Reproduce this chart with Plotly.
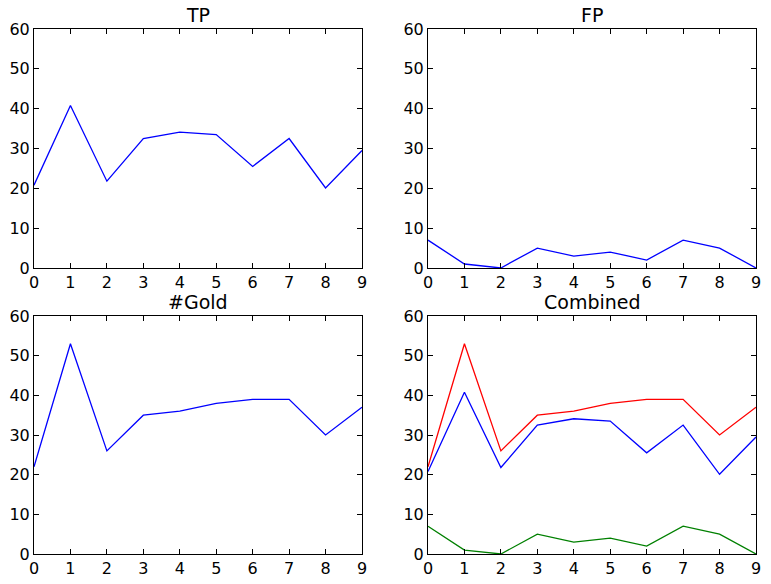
import plotly.graph_objects as go

# data
runs = [0, 1, 2, 3, 4, 5, 6, 7, 8, 9]
tp = [20.8, 40.8, 21.8, 32.5, 34.1, 33.5, 25.5, 32.5, 20.1, 29.5]
fp = [7, 1, 0, 5, 3, 4, 2, 7, 5, 0]
gold = [22, 53, 26, 35, 36, 38, 39, 39, 30, 37]

panel_titles = ["TP", "FP", "#Gold", "Combined"]
y_ticks = [0, 10, 20, 30, 40, 50, 60]

W, H = 771, 584
# axes boxes in pixels (left, right, top, bottom)
boxes = [(34, 362, 29, 268), (428, 756, 29, 268),
         (34, 362, 316, 554), (428, 756, 316, 554)]


def add_line(fig, x, y, color, n):
    """Add one line to subplot n."""
    suffix = "" if n == 1 else str(n)
    fig.add_trace(go.Scatter(
        x=x, y=y, mode="lines",
        line=dict(color=color, width=1.3),
        xaxis="x" + suffix, yaxis="y" + suffix,
        showlegend=False, hoverinfo="skip"
    ))


fig = go.Figure()
add_line(fig, runs, tp, "#0000ff", 1)
add_line(fig, runs, fp, "#0000ff", 2)
add_line(fig, runs, gold, "#0000ff", 3)
add_line(fig, runs, gold, "#ff0000", 4)
add_line(fig, runs, tp, "#0000ff", 4)
add_line(fig, runs, fp, "#008000", 4)

layout = dict(
    width=W, height=H,
    margin=dict(l=0, r=0, t=0, b=0),
    plot_bgcolor="white", paper_bgcolor="white",
    font=dict(family="DejaVu Sans", size=16, color="black"),
    annotations=[],
)

axis_style = dict(
    showgrid=False, zeroline=False, automargin=False,
    showline=True, linecolor="black", linewidth=1, mirror="allticks",
    ticks="inside", ticklen=5, tickcolor="black", tickwidth=1,
    tickfont=dict(family="DejaVu Sans", size=16, color="black"),
)

for i, (l, r, t, b) in enumerate(boxes):
    n = i + 1
    sfx = "" if n == 1 else str(n)
    xd = [l / W, r / W]
    yd = [1 - b / H, 1 - t / H]
    layout["xaxis" + sfx] = dict(
        domain=xd, range=[0, 9], tickmode="array", tickvals=runs,
        anchor="y" + sfx, **axis_style
    )
    layout["yaxis" + sfx] = dict(
        domain=yd, range=[0, 60], tickmode="array", tickvals=y_ticks,
        anchor="x" + sfx, **axis_style
    )
    layout["annotations"].append(dict(
        text=panel_titles[i], xref="paper", yref="paper",
        x=(xd[0] + xd[1]) / 2, y=yd[1], yshift=1,
        xanchor="center", yanchor="bottom", showarrow=False,
        font=dict(family="DejaVu Sans", size=19, color="black"),
    ))

fig.update_layout(**layout)
fig.write_html(
    "out.html",
    config={"displayModeBar": False},
    post_script="document.body.style.margin='0';document.body.style.overflow='hidden';"
)
